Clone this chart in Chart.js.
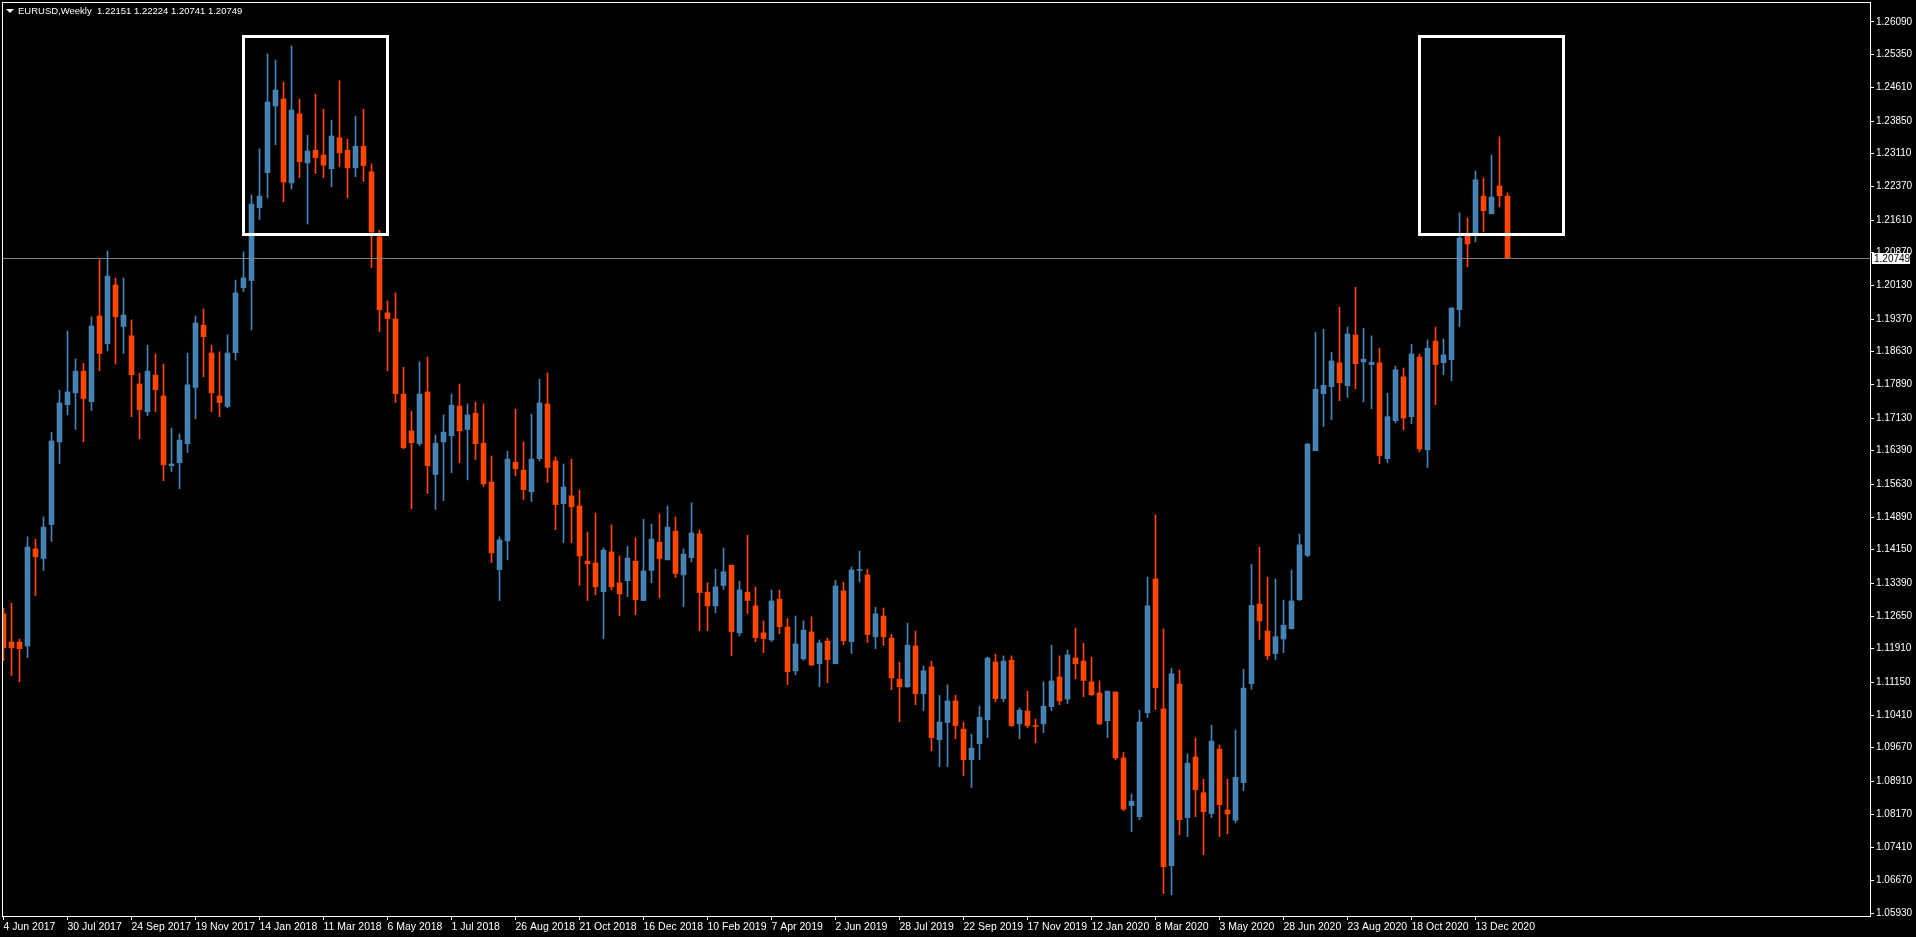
<!DOCTYPE html>
<html>
<head>
<meta charset="utf-8">
<script src="https://cdn.jsdelivr.net/npm/chart.js@4.4.1/dist/chart.umd.min.js"></script>
<style>
  html, body { margin: 0; padding: 0; background: #000; overflow: hidden; }
  canvas { display: block; }
</style>
</head>
<body>
<canvas id="chart" width="1916" height="937"></canvas>
<script>
/* global Chart */

// Weekly EURUSD candles, first week is 4 Jun 2017
const symbolName = 'EURUSD,Weekly';

const openP = [
  1.1270, 1.1206, 1.1206, 1.1197, 1.1417, 1.1395, 1.1472, 1.1659, 1.1743, 1.1770,
  1.1819, 1.1750, 1.1944, 1.1881, 1.2014, 1.1920, 1.1899, 1.1790, 1.1727, 1.1810,
  1.1763, 1.1605, 1.1612, 1.1655, 1.1782, 1.1923, 1.1860, 1.1763, 1.1739, 1.1861,
  1.2008, 1.2024, 1.2189, 1.2268, 1.2419, 1.2435, 1.2245, 1.2401, 1.2290, 1.2319,
  1.2308, 1.2277, 1.2347, 1.2319, 1.2279, 1.2328, 1.2270, 1.2123, 1.1951, 1.1937,
  1.1767, 1.1684, 1.1655, 1.1772, 1.1585, 1.1659, 1.1673, 1.1740, 1.1687, 1.1724,
  1.1656, 1.1568, 1.1370, 1.1435, 1.1613, 1.1595, 1.1546, 1.1621, 1.1745, 1.1616,
  1.1519, 1.1537, 1.1514, 1.1389, 1.1385, 1.1320, 1.1410, 1.1340, 1.1345, 1.1389,
  1.1300, 1.1368, 1.1432, 1.1392, 1.1457, 1.1358, 1.1397, 1.1451, 1.1319, 1.1288,
  1.1334, 1.1380, 1.1227, 1.1319, 1.1288, 1.1227, 1.1211, 1.1303, 1.1240, 1.1141,
  1.1168, 1.1229, 1.1157, 1.1208, 1.1157, 1.1322, 1.1207, 1.1368, 1.1358, 1.1218,
  1.1265, 1.1215, 1.1122, 1.1105, 1.1197, 1.1089, 1.1150, 1.0985, 1.1024, 1.1073,
  1.1009, 1.0940, 1.0976, 1.1030, 1.1161, 1.1078, 1.1165, 1.1021, 1.1050, 1.1016,
  1.1021, 1.1060, 1.1127, 1.1077, 1.1170, 1.1163, 1.1116, 1.1091, 1.1028, 1.1093,
  1.0944, 1.0836, 1.0811, 1.1046, 1.1349, 1.1055, 1.0700, 1.1111, 1.0809, 1.0946,
  1.0865, 1.0818, 1.0964, 1.0826, 1.0803, 1.0888, 1.1112, 1.1292, 1.1231, 1.1180,
  1.1213, 1.1236, 1.1302, 1.1402, 1.1639, 1.1768, 1.1784, 1.1838, 1.1786, 1.1901,
  1.1840, 1.1834, 1.1838, 1.1621, 1.1707, 1.1806, 1.1716, 1.1851, 1.1641, 1.1887,
  1.1838, 1.1845, 1.1958, 1.2125, 1.2130, 1.2215, 1.2175, 1.2238, 1.22151
];
const highP = [
  1.1283, 1.1294, 1.1213, 1.1444, 1.1439, 1.1489, 1.1681, 1.1776, 1.1910, 1.1847,
  1.1837, 1.1942, 1.2071, 1.2091, 1.2030, 1.2030, 1.1935, 1.1814, 1.1878, 1.1858,
  1.1835, 1.1690, 1.1677, 1.1860, 1.1944, 1.1960, 1.1878, 1.1863, 1.1901, 1.2025,
  1.2089, 1.2218, 1.2322, 1.2537, 1.2523, 1.2473, 1.2555, 1.2435, 1.2353, 1.2446,
  1.2412, 1.2387, 1.2476, 1.2344, 1.2396, 1.2412, 1.2288, 1.2138, 1.1978, 1.1996,
  1.1828, 1.1729, 1.1840, 1.1851, 1.1675, 1.1720, 1.1767, 1.1790, 1.1745, 1.1749,
  1.1745, 1.1627, 1.1444, 1.1638, 1.1733, 1.1659, 1.1722, 1.1801, 1.1815, 1.1625,
  1.1609, 1.1620, 1.1550, 1.1455, 1.1498, 1.1419, 1.1471, 1.1401, 1.1423, 1.1442,
  1.1484, 1.1473, 1.1496, 1.1514, 1.1489, 1.1417, 1.1521, 1.1460, 1.1340, 1.1371,
  1.1419, 1.1380, 1.1344, 1.1448, 1.1331, 1.1254, 1.1324, 1.1324, 1.1260, 1.1265,
  1.1254, 1.1263, 1.1211, 1.1215, 1.1346, 1.1342, 1.1376, 1.1412, 1.1371, 1.1285,
  1.1283, 1.1224, 1.1161, 1.1249, 1.1231, 1.1152, 1.1163, 1.1085, 1.1109, 1.1086,
  1.1025, 1.0998, 1.1061, 1.1172, 1.1179, 1.1175, 1.1175, 1.1057, 1.1095, 1.1032,
  1.1116, 1.1199, 1.1175, 1.1188, 1.1238, 1.1204, 1.1172, 1.1118, 1.1095, 1.1093,
  1.0957, 1.0862, 1.1052, 1.1353, 1.1494, 1.1236, 1.1147, 1.1143, 1.0953, 1.0989,
  1.0896, 1.1018, 1.0973, 1.0896, 1.1007, 1.1145, 1.1382, 1.1421, 1.1353, 1.1349,
  1.1301, 1.1369, 1.1450, 1.1656, 1.1907, 1.1914, 1.1862, 1.1964, 1.1919, 1.2009,
  1.1916, 1.1899, 1.1871, 1.1769, 1.1830, 1.1826, 1.1880, 1.1858, 1.1890, 1.1919,
  1.1892, 1.1962, 1.2177, 1.2166, 1.2272, 1.2256, 1.2308, 1.2349, 1.22224
];
const lowP = [
  1.1164, 1.1130, 1.1116, 1.1171, 1.1311, 1.1368, 1.1433, 1.1610, 1.1720, 1.1687,
  1.1659, 1.1730, 1.1820, 1.1865, 1.1835, 1.1859, 1.1716, 1.1666, 1.1718, 1.1727,
  1.1571, 1.1592, 1.1553, 1.1635, 1.1711, 1.1806, 1.1727, 1.1716, 1.1736, 1.1844,
  1.1999, 1.1912, 1.2162, 1.2211, 1.2331, 1.2202, 1.2231, 1.2257, 1.2152, 1.2266,
  1.2257, 1.2236, 1.2282, 1.2211, 1.2259, 1.2248, 1.2053, 1.1908, 1.1820, 1.1748,
  1.1643, 1.1507, 1.1650, 1.1542, 1.1506, 1.1526, 1.1589, 1.1612, 1.1573, 1.1619,
  1.1558, 1.1386, 1.1300, 1.1392, 1.1582, 1.1528, 1.1524, 1.1616, 1.1567, 1.1460,
  1.1431, 1.1431, 1.1334, 1.1300, 1.1313, 1.1214, 1.1324, 1.1266, 1.1309, 1.1268,
  1.1300, 1.1340, 1.1306, 1.1392, 1.1352, 1.1286, 1.1388, 1.1232, 1.1232, 1.1272,
  1.1325, 1.1175, 1.1220, 1.1270, 1.1207, 1.1182, 1.1207, 1.1225, 1.1110, 1.1132,
  1.1165, 1.1153, 1.1105, 1.1114, 1.1157, 1.1200, 1.1180, 1.1342, 1.1205, 1.1191,
  1.1198, 1.1098, 1.1026, 1.1103, 1.1064, 1.1051, 1.0960, 1.0924, 1.0924, 1.0987,
  1.0904, 1.0877, 1.0940, 1.0990, 1.1071, 1.1071, 1.1015, 1.0987, 1.1012, 1.0978,
  1.1001, 1.1051, 1.1064, 1.1067, 1.1123, 1.1082, 1.1085, 1.1019, 1.0990, 1.0940,
  1.0824, 1.0777, 1.0804, 1.1035, 1.1053, 1.0637, 1.0634, 1.0770, 1.0766, 1.0811,
  1.0725, 1.0809, 1.0766, 1.0772, 1.0797, 1.0870, 1.1099, 1.1212, 1.1166, 1.1166,
  1.1182, 1.1236, 1.1300, 1.1399, 1.1639, 1.1694, 1.1709, 1.1752, 1.1759, 1.1779,
  1.1750, 1.1734, 1.1610, 1.1612, 1.1702, 1.1686, 1.1700, 1.1637, 1.1601, 1.1743,
  1.1811, 1.1797, 1.1920, 1.2055, 1.2112, 1.2134, 1.2175, 1.2191, 1.20741
];
const closeP = [
  1.1193, 1.1193, 1.1191, 1.1421, 1.1399, 1.1466, 1.1661, 1.1747, 1.1772, 1.1819,
  1.1757, 1.1921, 1.1859, 1.2034, 1.1942, 1.1946, 1.1811, 1.1732, 1.1819, 1.1777,
  1.1607, 1.1609, 1.1663, 1.1788, 1.1928, 1.1897, 1.1770, 1.1748, 1.1860, 1.1996,
  1.2030, 1.2197, 1.2215, 1.2428, 1.2455, 1.2247, 1.2410, 1.2293, 1.2317, 1.2302,
  1.2285, 1.2351, 1.2313, 1.2279, 1.2328, 1.2284, 1.2134, 1.1958, 1.1938, 1.1768,
  1.1646, 1.1657, 1.1767, 1.1605, 1.1656, 1.1681, 1.1742, 1.1684, 1.1720, 1.1655,
  1.1564, 1.1408, 1.1437, 1.1620, 1.1598, 1.1551, 1.1620, 1.1747, 1.1601, 1.1517,
  1.1557, 1.1512, 1.1401, 1.1383, 1.1331, 1.1414, 1.1331, 1.1315, 1.1396, 1.1302,
  1.1367, 1.1439, 1.1395, 1.1466, 1.1361, 1.1405, 1.1453, 1.1318, 1.1288, 1.1331,
  1.1365, 1.1230, 1.1324, 1.1300, 1.1216, 1.1214, 1.1299, 1.1241, 1.1139, 1.1202,
  1.1233, 1.1154, 1.1204, 1.1166, 1.1333, 1.1209, 1.1369, 1.1369, 1.1223, 1.1270,
  1.1218, 1.1125, 1.1105, 1.1199, 1.1089, 1.1141, 1.0990, 1.1025, 1.1073, 1.1017,
  1.0940, 1.0966, 1.1036, 1.1170, 1.1078, 1.1163, 1.1017, 1.1052, 1.1017, 1.1015,
  1.1061, 1.1118, 1.1073, 1.1177, 1.1157, 1.1119, 1.1087, 1.1021, 1.1095, 1.0944,
  1.0828, 1.0846, 1.1025, 1.1288, 1.1103, 1.0698, 1.1134, 1.0804, 1.0932, 1.0872,
  1.0822, 1.0982, 1.0838, 1.0817, 1.0900, 1.1102, 1.1289, 1.1254, 1.1175, 1.1218,
  1.1244, 1.1299, 1.1426, 1.1654, 1.1778, 1.1787, 1.1842, 1.1793, 1.1903, 1.1836,
  1.1846, 1.1839, 1.1628, 1.1716, 1.1822, 1.1713, 1.1858, 1.1643, 1.1871, 1.1834,
  1.1856, 1.1962, 1.2120, 1.2107, 1.2252, 1.2182, 1.2213, 1.2216, 1.20749
];

// time axis labels, one every 8 weeks
const dateTicks = [
  '4 Jun 2017', '30 Jul 2017', '24 Sep 2017', '19 Nov 2017', '14 Jan 2018', '11 Mar 2018',
  '6 May 2018', '1 Jul 2018', '26 Aug 2018', '21 Oct 2018', '16 Dec 2018', '10 Feb 2019',
  '7 Apr 2019', '2 Jun 2019', '28 Jul 2019', '22 Sep 2019', '17 Nov 2019', '12 Jan 2020',
  '8 Mar 2020', '3 May 2020', '28 Jun 2020', '23 Aug 2020', '18 Oct 2020', '13 Dec 2020'
];
const priceTicks = [
  1.26090, 1.25350, 1.24610, 1.23850, 1.23110, 1.22370, 1.21610, 1.20870, 1.20130, 1.19370,
  1.18630, 1.17890, 1.17130, 1.16390, 1.15630, 1.14890, 1.14150, 1.13390, 1.12650, 1.11910,
  1.11150, 1.10410, 1.09670, 1.08910, 1.08170, 1.07410, 1.06670, 1.05930
];

// the two white rectangles (week index / price)
const boxes = [
  { from: 29.97, to: 48.03, top: 1.2577, bottom: 1.2129 },
  { from: 176.94, to: 194.94, top: 1.2577, bottom: 1.2129 }
];

const bullColor = '#4682B4';
const bearColor = '#FF4500';
const fontName = "'Liberation Sans', Arial, sans-serif";

Chart.defaults.font.family = fontName;
Chart.defaults.color = '#ffffff';

const idx = closeP.map((c, i) => i);
const candleColors = idx.map(i => closeP[i] >= openP[i] ? bullColor : bearColor);

const overlay = {
  id: 'overlay',
  afterDatasetsDraw(chart) {
    const { ctx, chartArea: a, scales: { x, y } } = chart;
    ctx.save();
    ctx.beginPath();
    ctx.rect(a.left, a.top, a.right - a.left, a.bottom - a.top);
    ctx.clip();
    // bid line
    const by = Math.round(y.getPixelForValue(closeP[closeP.length - 1])) + 0.5;
    ctx.strokeStyle = '#808080';
    ctx.lineWidth = 1;
    ctx.beginPath();
    ctx.moveTo(a.left, by);
    ctx.lineTo(a.right, by);
    ctx.stroke();
    // rectangles
    ctx.strokeStyle = '#ffffff';
    ctx.lineWidth = 3;
    boxes.forEach(b => {
      const x1 = Math.floor(x.getPixelForValue(b.from)) + 0.5;
      const x2 = Math.floor(x.getPixelForValue(b.to)) + 0.5;
      const y1 = Math.floor(y.getPixelForValue(b.top)) + 0.5;
      const y2 = Math.floor(y.getPixelForValue(b.bottom)) + 0.5;
      ctx.strokeRect(x1, y1, x2 - x1, y2 - y1);
    });
    ctx.restore();
  },
  afterDraw(chart) {
    const { ctx, chartArea: a, scales: { y } } = chart;
    ctx.save();
    // frame
    ctx.strokeStyle = '#ffffff';
    ctx.lineWidth = 1;
    ctx.strokeRect(a.left + 0.5, a.top + 0.5, a.right - a.left, a.bottom - a.top);

    // bid price label on the axis
    const last = closeP.length - 1;
    const by = Math.round(y.getPixelForValue(closeP[last]));
    ctx.fillStyle = '#ffffff';
    ctx.fillRect(a.right + 2, by - 5, 38, 11);
    ctx.fillStyle = '#000000';
    ctx.font = '10px ' + fontName;
    ctx.textBaseline = 'middle';
    ctx.textAlign = 'left';
    ctx.fillText(closeP[last].toFixed(5), a.right + 4, by + 1);

    // header
    ctx.fillStyle = '#ffffff';
    ctx.beginPath();
    ctx.moveTo(6, 9);
    ctx.lineTo(14, 9);
    ctx.lineTo(10, 13);
    ctx.closePath();
    ctx.fill();
    ctx.font = '9.5px ' + fontName;
    ctx.fillText(symbolName, 18, 11);
    const ohlc = [openP[last], highP[last], lowP[last], closeP[last]].map(v => v.toFixed(5)).join(' ');
    ctx.fillText(ohlc, 97, 11);
    ctx.restore();
  }
};

const ctx = document.getElementById('chart').getContext('2d');
const chart = new Chart(ctx, {
  type: 'bar',
  data: {
    datasets: [
      {
        label: 'wick',
        data: idx.map(i => ({ x: i, y: [lowP[i], highP[i]] })),
        backgroundColor: candleColors,
        barThickness: 1,
        grouped: false,
        order: 2
      },
      {
        label: 'body',
        data: idx.map(i => ({ x: i, y: [openP[i], closeP[i]] })),
        backgroundColor: candleColors,
        barThickness: 5,
        minBarLength: 1,
        grouped: false,
        order: 1
      }
    ]
  },
  options: {
    responsive: false,
    animation: false,
    layout: { padding: { left: 2, top: 2, right: 0, bottom: 0 } },
    plugins: {
      legend: { display: false },
      tooltip: { enabled: false }
    },
    scales: {
      x: {
        type: 'linear',
        min: -0.1875,
        max: 233.3125,
        offset: false,
        border: { display: false },
        grid: { drawOnChartArea: false, color: '#ffffff', tickLength: 4, offset: false },
        afterBuildTicks: scale => { scale.ticks = dateTicks.map((d, k) => ({ value: k * 8 })); },
        afterFit: scale => {
          scale.height = 21;
          scale.paddingLeft = 0;
          scale.paddingRight = 0;
        },
        ticks: {
          autoSkip: false,
          maxRotation: 0,
          align: 'start',
          padding: 1,
          color: '#ffffff',
          font: { size: 10.5 },
          callback: (v, k) => dateTicks[k]
        }
      },
      y: {
        position: 'right',
        min: 1.058624,
        max: 1.265425,
        border: { display: false },
        grid: { drawOnChartArea: false, color: '#ffffff', tickLength: 4 },
        afterBuildTicks: scale => { scale.ticks = priceTicks.map(v => ({ value: v })); },
        afterFit: scale => {
          scale.width = 46;
          scale.paddingTop = 0;
          scale.paddingBottom = 0;
        },
        ticks: {
          padding: 2,
          color: '#ffffff',
          font: { size: 10 },
          callback: v => v.toFixed(5)
        }
      }
    }
  },
  plugins: [overlay]
});
</script>
</body>
</html>
